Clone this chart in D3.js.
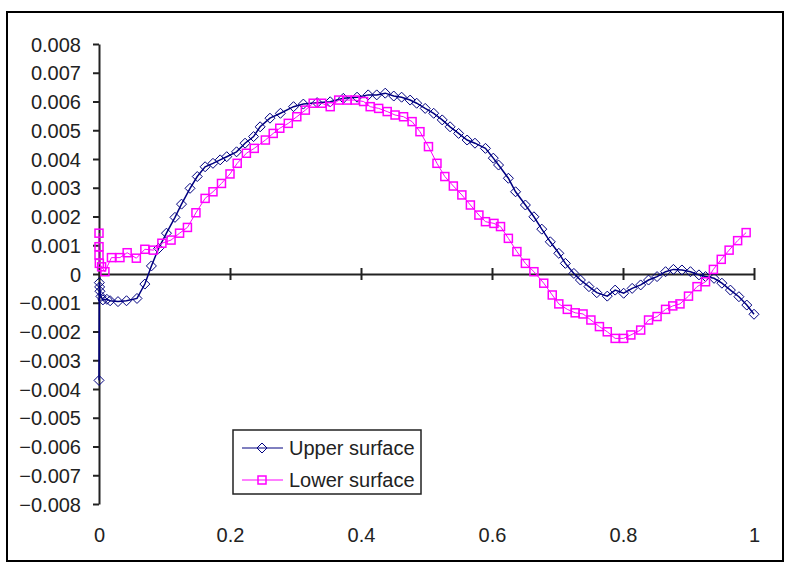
<!DOCTYPE html>
<html>
<head>
<meta charset="utf-8">
<script src="https://cdn.jsdelivr.net/npm/d3@7"></script>
<style>
  body { margin: 0; background: #fff; }
  svg { display: block; font-family: "Liberation Sans", Arial, sans-serif; }
</style>
</head>
<body>
<svg width="787" height="563"></svg>
<script>
// upper surface (x, y)
var upperX = [0, 0.0005, 0.001, 0.0015, 0.003, 0.006, 0.012, 0.017, 0.029, 0.042, 0.058, 0.070, 0.080, 0.091,
  0.103, 0.116, 0.126, 0.139, 0.150, 0.162, 0.174, 0.185, 0.195, 0.210, 0.223, 0.236, 0.246, 0.261, 0.277,
  0.297, 0.312, 0.333, 0.353, 0.373, 0.394, 0.411, 0.424, 0.437, 0.450, 0.462, 0.475, 0.485, 0.498, 0.511,
  0.524, 0.536, 0.549, 0.562, 0.574, 0.590, 0.602, 0.610, 0.625, 0.636, 0.651, 0.664, 0.676, 0.689, 0.702,
  0.712, 0.725, 0.735, 0.748, 0.760, 0.776, 0.788, 0.801, 0.814, 0.827, 0.839, 0.852, 0.865, 0.877, 0.890,
  0.903, 0.916, 0.926, 0.939, 0.951, 0.964, 0.977, 0.989, 1.0];
var upperY = [-0.0037, -0.0003, -0.00045, -0.0006, -0.00078, -0.0009, -0.00088, -0.00093, -0.00096, -0.00093,
  -0.00085, -0.00035, 0.00028, 0.00089, 0.00142, 0.00197, 0.00243, 0.00298, 0.00339, 0.00373, 0.00385,
  0.00397, 0.00408, 0.00425, 0.00455, 0.00478, 0.00512, 0.00542, 0.00559, 0.00582, 0.00591, 0.00596,
  0.00599, 0.00611, 0.00615, 0.00623, 0.00623, 0.00629, 0.00619, 0.00615, 0.00605, 0.00594, 0.00576,
  0.00559, 0.00536, 0.00512, 0.00489, 0.00466, 0.00455, 0.00437, 0.00403, 0.00379, 0.00333, 0.00286,
  0.0024, 0.00199, 0.00156, 0.00112, 0.00072, 0.00037, 0.00002, -0.00021, -0.00044, -0.00065, -0.00077,
  -0.00056, -0.00067, -0.0005, -0.00038, -0.00021, -0.00009, 0.00008, 0.00016, 0.00014, 0.00008, -0.00003,
  -0.00009, -0.00015, -0.00032, -0.00056, -0.00079, -0.00108, -0.0014];

// lower surface (x, y)
var lowerX = [0, 0, 0, 0.0005, 0.004, 0.009, 0.019, 0.032, 0.043, 0.057, 0.070, 0.083, 0.096, 0.110, 0.123,
  0.135, 0.148, 0.162, 0.174, 0.187, 0.200, 0.211, 0.225, 0.237, 0.254, 0.266, 0.276, 0.289, 0.302, 0.315,
  0.327, 0.340, 0.353, 0.366, 0.379, 0.391, 0.404, 0.414, 0.427, 0.440, 0.452, 0.465, 0.478, 0.490, 0.503,
  0.516, 0.528, 0.541, 0.554, 0.567, 0.580, 0.590, 0.603, 0.613, 0.625, 0.638, 0.651, 0.664, 0.679, 0.692,
  0.702, 0.715, 0.727, 0.739, 0.751, 0.764, 0.776, 0.788, 0.801, 0.812, 0.827, 0.839, 0.852, 0.865, 0.876,
  0.887, 0.900, 0.913, 0.926, 0.938, 0.950, 0.962, 0.975, 0.988];
var lowerY = [0.00142, 0.00095, 0.00066, 0.00037, 0.00025, 0.00008, 0.00057, 0.00057, 0.00074, 0.00055,
  0.00086, 0.00083, 0.00107, 0.00118, 0.00142, 0.00162, 0.00213, 0.00263, 0.00286, 0.00315, 0.00348,
  0.00385, 0.0042, 0.00437, 0.00466, 0.00489, 0.00507, 0.00524, 0.00547, 0.0057, 0.00594, 0.00594,
  0.00582, 0.00605, 0.00605, 0.00605, 0.006, 0.00582, 0.00576, 0.00565, 0.00553, 0.00547, 0.0053,
  0.00495, 0.00443, 0.00385, 0.00339, 0.00306, 0.00275, 0.0024, 0.00205, 0.00182, 0.00176, 0.00165,
  0.00124, 0.00078, 0.00037, 0.00008, -0.00032, -0.00073, -0.00104, -0.00123, -0.00135, -0.00139,
  -0.0016, -0.00183, -0.00201, -0.00224, -0.00224, -0.00212, -0.00195, -0.0016, -0.00148, -0.00123,
  -0.00111, -0.00104, -0.00077, -0.00044, -0.00027, 0.00016, 0.00051, 0.00083, 0.00116, 0.00144];

var xTicks = [0, 0.2, 0.4, 0.6, 0.8, 1];
var yTicks = [-0.008, -0.007, -0.006, -0.005, -0.004, -0.003, -0.002, -0.001, 0,
  0.001, 0.002, 0.003, 0.004, 0.005, 0.006, 0.007, 0.008];
var seriesNames = ["Upper surface", "Lower surface"];

var svg = d3.select('svg');
var x = d3.scaleLinear().domain([0, 1]).range([99, 754]);
var y = d3.scaleLinear().domain([-0.008, 0.008]).range([504, 44]);

// outer frame
svg.append('rect').attr('x', 7).attr('y', 12).attr('width', 776).attr('height', 549)
  .attr('fill', 'white').attr('stroke', '#000').attr('stroke-width', 2);

// y axis
var yAxis = svg.append('g').attr('transform', 'translate(' + x(0) + ',0)')
  .call(d3.axisLeft(y).tickValues(yTicks).tickSize(6).tickSizeOuter(0)
    .tickFormat(function (d) { return Math.abs(d) < 1e-9 ? '0' : d3.format('.3f')(d); }));
yAxis.selectAll('path, line').attr('stroke', '#222').attr('stroke-width', 2);
yAxis.selectAll('text').attr('x', -18).attr('dy', '0.36em').attr('font-size', 20)
  .attr('fill', '#222').attr('font-family', '"Liberation Sans", Arial, sans-serif');

// x axis line at y=0 with cross ticks
var xAxis = svg.append('g').attr('transform', 'translate(0,' + y(0) + ')')
  .call(d3.axisBottom(x).tickValues(xTicks).tickSize(6).tickSizeOuter(0).tickFormat(''));
xAxis.selectAll('path').attr('stroke', '#222').attr('stroke-width', 2);
xAxis.selectAll('.tick line').attr('y1', -6).attr('y2', 6).attr('stroke', '#222').attr('stroke-width', 2);

// x labels at the bottom
var xLab = svg.append('g').attr('transform', 'translate(0,525)')
  .call(d3.axisBottom(x).tickValues(xTicks).tickSize(0).tickFormat(d3.format('')));
xLab.select('.domain').remove();
xLab.selectAll('text').attr('font-size', 20).attr('fill', '#222').attr('dy', '0.71em')
  .attr('font-family', '"Liberation Sans", Arial, sans-serif');

var line = d3.line().x(function (d) { return x(d[0]); }).y(function (d) { return y(d[1]); });
var upper = d3.zip(upperX, upperY);
var lower = d3.zip(lowerX, lowerY);

function diamond(g, cx, cy, color) {
  g.append('path').attr('d', 'M' + cx + ',' + (cy - 5) + 'L' + (cx + 5) + ',' + cy + 'L' + cx + ',' + (cy + 5) + 'L' + (cx - 5) + ',' + cy + 'Z')
    .attr('fill', 'none').attr('stroke', color).attr('stroke-width', 1);
}
function square(g, cx, cy, color) {
  g.append('rect').attr('x', cx - 4).attr('y', cy - 4).attr('width', 8).attr('height', 8)
    .attr('fill', 'none').attr('stroke', color).attr('stroke-width', 1.5);
}

var gU = svg.append('g');
gU.append('path').datum(upper).attr('d', line).attr('fill', 'none').attr('stroke', '#000080').attr('stroke-width', 1.5);
upper.forEach(function (d) { diamond(gU, x(d[0]), y(d[1]), '#000080'); });

var gL = svg.append('g');
gL.append('path').datum(lower).attr('d', line).attr('fill', 'none').attr('stroke', '#ff00ff').attr('stroke-width', 1);
lower.forEach(function (d) { square(gL, x(d[0]), y(d[1]), '#ff00ff'); });

// legend
var leg = svg.append('g');
leg.append('rect').attr('x', 233).attr('y', 430).attr('width', 188).attr('height', 64)
  .attr('fill', 'white').attr('stroke', '#222').attr('stroke-width', 1.5);
var legColors = ['#000080', '#ff00ff'];
seriesNames.forEach(function (name, i) {
  var ly = 448 + i * 32;
  leg.append('line').attr('x1', 242).attr('x2', 283).attr('y1', ly).attr('y2', ly)
    .attr('stroke', legColors[i]).attr('stroke-width', 1);
  if (i === 0) diamond(leg, 262, ly, legColors[i]); else square(leg, 262, ly, legColors[i]);
  leg.append('text').attr('x', 289).attr('y', ly + 7).attr('font-size', 20).attr('fill', '#222').text(name);
});
</script>
</body>
</html>
